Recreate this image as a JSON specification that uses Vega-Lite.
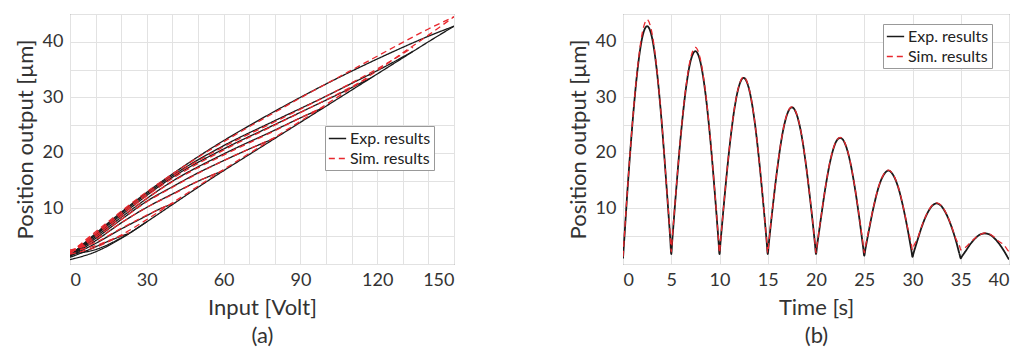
{
 "$schema": "https://vega.github.io/schema/vega-lite/v6.json",
 "background": "white",
 "padding": {"left": 13, "top": 13, "right": 10, "bottom": 0},
 "config": {
  "font": "Lato",
  "view": {"stroke": "#666", "strokeWidth": 1},
  "axis": {"grid": true, "gridColor": "#e2e2e2", "domain": false, "ticks": false, "labelFontSize": 18, "titleFontSize": 22, "labelColor": "#333", "titleColor": "#333", "titleFontWeight": "normal", "labelPadding": 7, "labelFont": "Lato", "titleFont": "Lato"},
  "legend": {"labelFontSize": 16, "labelColor": "#222", "strokeColor": "#999", "fillColor": "white", "padding": 3, "rowPadding": 2, "symbolType": "stroke", "symbolSize": 300, "symbolStrokeWidth": 1.5, "labelOffset": 3, "title": null}
 },
 "datasets": {
  "hexp": [
   {"b":0,"v":0,"y":0.8},{"b":0,"v":10,"y":2.2},{"b":0,"v":20,"y":4.6},{"b":0,"v":30,"y":7.6},{"b":0,"v":40,"y":10.7},{"b":0,"v":50,"y":13.8},{"b":0,"v":60,"y":16.8},{"b":0,"v":70,"y":19.7},{"b":0,"v":80,"y":22.6},{"b":0,"v":90,"y":25.5},{"b":0,"v":100,"y":28.4},{"b":0,"v":110,"y":31.3},{"b":0,"v":120,"y":34.2},{"b":0,"v":130,"y":37.1},{"b":0,"v":140,"y":40.0},{"b":0,"v":150,"y":42.8},
   {"b":9,"v":0,"y":1.8},{"b":9,"v":10,"y":2.6},{"b":9,"v":20,"y":4.7},{"b":9,"v":30,"y":7.6},
   {"b":1,"v":0,"y":1.5},{"b":1,"v":10,"y":5.5},{"b":1,"v":20,"y":9.3},{"b":1,"v":30,"y":12.9},{"b":1,"v":40,"y":16.2},{"b":1,"v":50,"y":19.3},{"b":1,"v":60,"y":22.2},{"b":1,"v":70,"y":24.9},{"b":1,"v":80,"y":27.5},{"b":1,"v":90,"y":30.0},{"b":1,"v":100,"y":32.4},{"b":1,"v":110,"y":34.7},{"b":1,"v":120,"y":36.9},{"b":1,"v":130,"y":39.0},{"b":1,"v":140,"y":41.0},{"b":1,"v":150,"y":42.8},
   {"b":2,"v":0,"y":1.5},{"b":2,"v":10,"y":5.3},{"b":2,"v":20,"y":9.1},{"b":2,"v":40,"y":15.9},{"b":2,"v":60,"y":21.3},{"b":2,"v":80,"y":25.8},{"b":2,"v":100,"y":30.2},{"b":2,"v":110,"y":32.5},{"b":2,"v":120,"y":34.8},{"b":2,"v":127,"y":36.5},{"b":2,"v":134,"y":38.3},
   {"b":3,"v":0,"y":1.5},{"b":3,"v":10,"y":5.2},{"b":3,"v":20,"y":8.8},{"b":3,"v":40,"y":15.6},{"b":3,"v":60,"y":20.7},{"b":3,"v":80,"y":25.1},{"b":3,"v":95,"y":28.4},{"b":3,"v":105,"y":30.6},{"b":3,"v":112,"y":32.2},{"b":3,"v":117.6,"y":33.5},
   {"b":4,"v":0,"y":1.5},{"b":4,"v":10,"y":4.9},{"b":4,"v":20,"y":8.4},{"b":4,"v":40,"y":14.9},{"b":4,"v":60,"y":19.8},{"b":4,"v":80,"y":24.1},{"b":4,"v":90,"y":26.3},{"b":4,"v":99.3,"y":28.2},
   {"b":5,"v":0,"y":1.5},{"b":5,"v":10,"y":4.6},{"b":5,"v":20,"y":8.0},{"b":5,"v":30,"y":11.3},{"b":5,"v":40,"y":13.9},{"b":5,"v":50,"y":16.4},{"b":5,"v":60,"y":18.6},{"b":5,"v":70,"y":20.7},{"b":5,"v":80.3,"y":22.7},
   {"b":6,"v":0,"y":1.5},{"b":6,"v":10,"y":4.2},{"b":6,"v":20,"y":7.4},{"b":6,"v":30,"y":10.2},{"b":6,"v":40,"y":12.6},{"b":6,"v":50,"y":14.9},{"b":6,"v":55,"y":15.9},{"b":6,"v":60,"y":16.8},
   {"b":7,"v":0,"y":1.4},{"b":7,"v":10,"y":3.7},{"b":7,"v":20,"y":6.3},{"b":7,"v":30,"y":8.7},{"b":7,"v":35,"y":9.9},{"b":7,"v":40.6,"y":10.9},
   {"b":8,"v":0,"y":1.2},{"b":8,"v":5,"y":2.1},{"b":8,"v":10,"y":3.1},{"b":8,"v":15,"y":4.1},{"b":8,"v":20,"y":5.0},{"b":8,"v":23,"y":5.5}
  ],
  "hsim": [
   {"b":0,"v":0,"y":1.8},{"b":0,"v":10,"y":3.0},{"b":0,"v":20,"y":5.2},{"b":0,"v":30,"y":8.0},{"b":0,"v":40,"y":11.0},{"b":0,"v":50,"y":14.0},{"b":0,"v":60,"y":17.0},{"b":0,"v":70,"y":19.9},{"b":0,"v":80,"y":22.8},{"b":0,"v":90,"y":25.7},{"b":0,"v":100,"y":28.7},{"b":0,"v":110,"y":31.7},{"b":0,"v":120,"y":34.8},{"b":0,"v":130,"y":38.0},{"b":0,"v":140,"y":41.2},{"b":0,"v":150,"y":44.5},
   {"b":1,"v":0,"y":2.0},{"b":1,"v":10,"y":5.8},{"b":1,"v":20,"y":9.5},{"b":1,"v":30,"y":13.0},{"b":1,"v":40,"y":16.2},{"b":1,"v":50,"y":19.2},{"b":1,"v":60,"y":22.0},{"b":1,"v":70,"y":24.7},{"b":1,"v":80,"y":27.3},{"b":1,"v":90,"y":29.9},{"b":1,"v":100,"y":32.4},{"b":1,"v":110,"y":34.9},{"b":1,"v":120,"y":37.4},{"b":1,"v":130,"y":39.9},{"b":1,"v":140,"y":42.3},{"b":1,"v":150,"y":44.5},
   {"b":2,"v":0,"y":2.0},{"b":2,"v":10,"y":5.5},{"b":2,"v":20,"y":9.2},{"b":2,"v":40,"y":15.8},{"b":2,"v":60,"y":21.1},{"b":2,"v":80,"y":25.6},{"b":2,"v":100,"y":30.2},{"b":2,"v":110,"y":32.6},{"b":2,"v":120,"y":35.1},{"b":2,"v":127,"y":37.0},{"b":2,"v":134,"y":39.0},
   {"b":3,"v":0,"y":2.0},{"b":3,"v":10,"y":5.4},{"b":3,"v":20,"y":8.9},{"b":3,"v":40,"y":15.4},{"b":3,"v":60,"y":20.5},{"b":3,"v":80,"y":25.0},{"b":3,"v":95,"y":28.4},{"b":3,"v":105,"y":30.7},{"b":3,"v":112,"y":32.4},{"b":3,"v":117.6,"y":33.7},
   {"b":4,"v":0,"y":2.0},{"b":4,"v":10,"y":5.1},{"b":4,"v":20,"y":8.5},{"b":4,"v":40,"y":14.8},{"b":4,"v":60,"y":19.6},{"b":4,"v":80,"y":24.0},{"b":4,"v":90,"y":26.3},{"b":4,"v":99.3,"y":28.3},
   {"b":5,"v":0,"y":2.0},{"b":5,"v":10,"y":4.8},{"b":5,"v":20,"y":8.0},{"b":5,"v":30,"y":11.2},{"b":5,"v":40,"y":13.8},{"b":5,"v":50,"y":16.3},{"b":5,"v":60,"y":18.6},{"b":5,"v":70,"y":20.7},{"b":5,"v":80.3,"y":22.8},
   {"b":6,"v":0,"y":2.2},{"b":6,"v":10,"y":4.4},{"b":6,"v":20,"y":7.4},{"b":6,"v":30,"y":10.2},{"b":6,"v":40,"y":12.5},{"b":6,"v":50,"y":14.9},{"b":6,"v":55,"y":15.9},{"b":6,"v":60,"y":16.9},
   {"b":7,"v":0,"y":2.5},{"b":7,"v":10,"y":3.9},{"b":7,"v":20,"y":6.4},{"b":7,"v":30,"y":8.8},{"b":7,"v":35,"y":9.9},{"b":7,"v":40.6,"y":11.0},
   {"b":8,"v":0,"y":2.5},{"b":8,"v":5,"y":2.7},{"b":8,"v":10,"y":3.3},{"b":8,"v":15,"y":4.2},{"b":8,"v":20,"y":5.1},{"b":8,"v":23,"y":5.6}
  ],
  "texp": [
   {"t":0,"y":1.0},{"t":0.1,"y":3.6},{"t":0.5,"y":14.2},{"t":1,"y":25.7},{"t":1.5,"y":34.9},{"t":2,"y":40.8},{"t":2.5,"y":42.8},{"t":3,"y":40.8},{"t":3.5,"y":34.9},{"t":4,"y":25.7},{"t":4.5,"y":14.2},{"t":4.9,"y":4.4},{"t":5,"y":1.8},
   {"t":5.1,"y":4.1},{"t":5.5,"y":13.1},{"t":6,"y":23.3},{"t":6.5,"y":31.3},{"t":7,"y":36.5},{"t":7.5,"y":38.3},{"t":8,"y":36.5},{"t":8.5,"y":31.3},{"t":9,"y":23.3},{"t":9.5,"y":13.1},{"t":9.9,"y":4.1},{"t":10,"y":1.8},
   {"t":10.1,"y":3.8},{"t":10.5,"y":11.6},{"t":11,"y":20.4},{"t":11.5,"y":27.4},{"t":12,"y":31.9},{"t":12.5,"y":33.5},{"t":13,"y":31.9},{"t":13.5,"y":27.4},{"t":14,"y":20.4},{"t":14.5,"y":11.6},{"t":14.9,"y":3.8},{"t":15,"y":1.8},
   {"t":15.1,"y":3.5},{"t":15.5,"y":10.0},{"t":16,"y":17.3},{"t":16.5,"y":23.2},{"t":17,"y":26.9},{"t":17.5,"y":28.2},{"t":18,"y":26.9},{"t":18.5,"y":23.2},{"t":19,"y":17.3},{"t":19.5,"y":10.0},{"t":19.9,"y":3.5},{"t":20,"y":1.8},
   {"t":20.1,"y":3.1},{"t":20.5,"y":8.1},{"t":21,"y":14.0},{"t":21.5,"y":18.7},{"t":22,"y":21.7},{"t":22.5,"y":22.7},{"t":23,"y":21.7},{"t":23.5,"y":18.7},{"t":24,"y":14.0},{"t":24.5,"y":8.1},{"t":24.9,"y":2.8},{"t":25,"y":1.5},
   {"t":25.1,"y":2.5},{"t":25.5,"y":6.2},{"t":26,"y":10.5},{"t":26.5,"y":13.9},{"t":27,"y":16.0},{"t":27.5,"y":16.8},{"t":28,"y":16.0},{"t":28.5,"y":13.9},{"t":29,"y":10.5},{"t":29.5,"y":6.2},{"t":29.9,"y":2.3},{"t":30,"y":1.3},
   {"t":30.1,"y":1.9},{"t":30.5,"y":4.2},{"t":31,"y":6.9},{"t":31.5,"y":9.0},{"t":32,"y":10.4},{"t":32.5,"y":10.9},{"t":33,"y":10.4},{"t":33.5,"y":9.0},{"t":34,"y":6.9},{"t":34.5,"y":4.2},{"t":34.9,"y":1.6},{"t":35,"y":1.0},
   {"t":35.1,"y":1.3},{"t":35.5,"y":2.3},{"t":36,"y":3.6},{"t":36.5,"y":4.6},{"t":37,"y":5.3},{"t":37.5,"y":5.5},{"t":38,"y":5.3},{"t":38.5,"y":4.6},{"t":39,"y":3.6},{"t":39.5,"y":2.3},{"t":39.9,"y":1.1},{"t":40,"y":0.8}
  ],
  "tsim": [
   {"t":0,"y":1.3},{"t":0.1,"y":4.0},{"t":0.5,"y":14.3},{"t":1,"y":25.9},{"t":1.5,"y":35.2},{"t":2,"y":41.6},{"t":2.5,"y":44.0},{"t":3,"y":41.6},{"t":3.5,"y":35.2},{"t":4,"y":25.9},{"t":4.5,"y":14.3},{"t":4.9,"y":4.9},{"t":5,"y":2.2},
   {"t":5.1,"y":4.5},{"t":5.5,"y":13.3},{"t":6,"y":23.5},{"t":6.5,"y":31.6},{"t":7,"y":37.0},{"t":7.5,"y":39.0},{"t":8,"y":37.0},{"t":8.5,"y":31.6},{"t":9,"y":23.5},{"t":9.5,"y":13.3},{"t":9.9,"y":4.3},{"t":10,"y":2.0},
   {"t":10.1,"y":4.0},{"t":10.5,"y":11.7},{"t":11,"y":20.5},{"t":11.5,"y":27.5},{"t":12,"y":32.0},{"t":12.5,"y":33.7},{"t":13,"y":32.0},{"t":13.5,"y":27.5},{"t":14,"y":20.5},{"t":14.5,"y":11.7},{"t":14.9,"y":4.0},{"t":15,"y":2.0},
   {"t":15.1,"y":3.7},{"t":15.5,"y":10.1},{"t":16,"y":17.4},{"t":16.5,"y":23.3},{"t":17,"y":27.0},{"t":17.5,"y":28.3},{"t":18,"y":27.0},{"t":18.5,"y":23.3},{"t":19,"y":17.4},{"t":19.5,"y":10.1},{"t":19.9,"y":3.7},{"t":20,"y":2.0},
   {"t":20.1,"y":3.3},{"t":20.5,"y":8.2},{"t":21,"y":14.1},{"t":21.5,"y":18.8},{"t":22,"y":21.8},{"t":22.5,"y":22.8},{"t":23,"y":21.8},{"t":23.5,"y":18.8},{"t":24,"y":14.1},{"t":24.5,"y":8.3},{"t":24.9,"y":3.3},{"t":25,"y":2.0},
   {"t":25.1,"y":2.9},{"t":25.5,"y":6.4},{"t":26,"y":10.6},{"t":26.5,"y":14.0},{"t":27,"y":16.1},{"t":27.5,"y":16.9},{"t":28,"y":16.1},{"t":28.5,"y":14.0},{"t":29,"y":10.6},{"t":29.5,"y":6.5},{"t":29.9,"y":3.4},{"t":30,"y":2.5},
   {"t":30.1,"y":3.1},{"t":30.5,"y":4.5},{"t":31,"y":7.0},{"t":31.5,"y":9.1},{"t":32,"y":10.5},{"t":32.5,"y":11.0},{"t":33,"y":10.5},{"t":33.5,"y":9.1},{"t":34,"y":7.0},{"t":34.5,"y":4.5},{"t":34.9,"y":3.1},{"t":35,"y":2.5},
   {"t":35.1,"y":2.7},{"t":35.5,"y":3.0},{"t":36,"y":3.9},{"t":36.5,"y":4.7},{"t":37,"y":5.3},{"t":37.5,"y":5.6},{"t":38,"y":5.4},{"t":38.5,"y":4.8},{"t":39,"y":4.0},{"t":39.5,"y":3.4},{"t":39.9,"y":2.4},{"t":40,"y":2.2}
  ]
 },
 "spacing": 111,
 "resolve": {"scale": {"color": "independent", "strokeDash": "independent"}},
 "hconcat": [
  {
   "width": 384, "height": 250,
   "encoding": {
    "x": {"field": "v", "type": "quantitative", "scale": {"domain": [0, 150], "nice": false},
     "axis": {"values": [0,10,20,30,40,50,60,70,80,90,100,110,120,130,140,150], "labelExpr": "datum.value % 30 === 0 ? datum.label : ''", "title": ["Input [Volt]", "(a)"], "titlePadding": 8, "titleLineHeight": 28}},
    "y": {"field": "y", "type": "quantitative", "scale": {"domain": [0, 45], "nice": false},
     "axis": {"values": [0,5,10,15,20,25,30,35,40,45], "labelExpr": "datum.value % 10 === 0 && datum.value > 0 ? datum.label : ''", "title": "Position output [µm]", "titlePadding": 5}}
   },
   "layer": [
    {"data": {"name": "hexp"}, "mark": {"type": "line", "strokeWidth": 1.3, "interpolate": "monotone", "clip": true},
     "encoding": {"detail": {"field": "b", "type": "nominal"},
      "color": {"datum": "Exp. results", "type": "nominal", "scale": {"domain": ["Exp. results", "Sim. results"], "range": ["#1a1a1a", "#e8282e"]}, "legend": {"orient": "none", "legendX": 255, "legendY": 112}},
      "strokeDash": {"datum": "Exp. results", "type": "nominal", "scale": {"domain": ["Exp. results", "Sim. results"], "range": [[1, 0], [6, 4]]}, "legend": {"orient": "none", "legendX": 255, "legendY": 112}}}},
    {"data": {"name": "hsim"}, "mark": {"type": "line", "strokeWidth": 1.3, "interpolate": "monotone", "clip": true},
     "encoding": {"detail": {"field": "b", "type": "nominal"},
      "color": {"datum": "Sim. results", "type": "nominal"},
      "strokeDash": {"datum": "Sim. results", "type": "nominal"}}}
   ]
  },
  {
   "width": 386, "height": 250,
   "encoding": {
    "x": {"field": "t", "type": "quantitative", "scale": {"domain": [0, 40], "nice": false},
     "axis": {"values": [0,5,10,15,20,25,30,35,40], "title": ["Time [s]", "(b)"], "titlePadding": 8, "titleLineHeight": 28}},
    "y": {"field": "y", "type": "quantitative", "scale": {"domain": [0, 45], "nice": false},
     "axis": {"values": [0,5,10,15,20,25,30,35,40,45], "labelExpr": "datum.value % 10 === 0 && datum.value > 0 ? datum.label : ''", "title": "Position output [µm]", "titlePadding": 5}}
   },
   "layer": [
    {"data": {"name": "texp"}, "mark": {"type": "line", "strokeWidth": 1.8, "interpolate": "monotone", "clip": true},
     "encoding": {
      "color": {"datum": "Exp. results", "type": "nominal", "scale": {"domain": ["Exp. results", "Sim. results"], "range": ["#1a1a1a", "#e8282e"]}, "legend": {"orient": "none", "legendX": 260, "legendY": 10}},
      "strokeDash": {"datum": "Exp. results", "type": "nominal", "scale": {"domain": ["Exp. results", "Sim. results"], "range": [[1, 0], [6, 4]]}, "legend": {"orient": "none", "legendX": 260, "legendY": 10}}}},
    {"data": {"name": "tsim"}, "mark": {"type": "line", "strokeWidth": 1.3, "interpolate": "monotone", "clip": true},
     "encoding": {
      "color": {"datum": "Sim. results", "type": "nominal"},
      "strokeDash": {"datum": "Sim. results", "type": "nominal"}}}
   ]
  }
 ]
}
